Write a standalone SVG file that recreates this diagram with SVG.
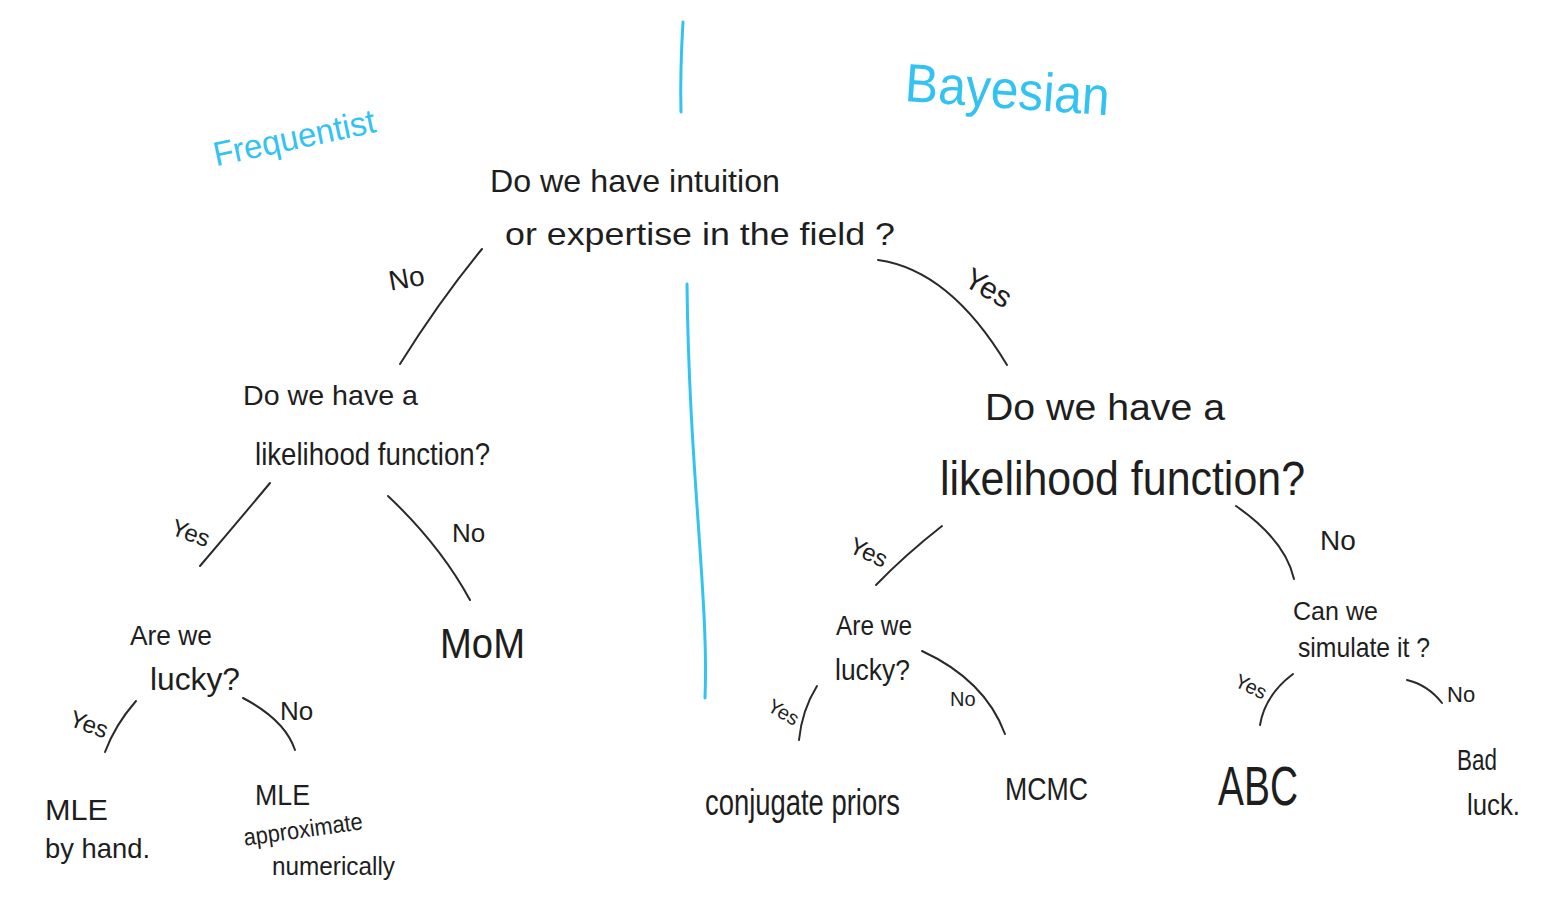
<svg xmlns="http://www.w3.org/2000/svg" width="1541" height="914" viewBox="0 0 1541 914">
<style>
.t{font-family:"Liberation Sans","DejaVu Sans",sans-serif;fill:#1e1e1e}
.b{font-family:"Liberation Sans","DejaVu Sans",sans-serif;fill:#33c3f2}
.c{fill:none;stroke:#2a2a2a;stroke-width:2;stroke-linecap:round}
.bl{fill:none;stroke:#33c3f2;stroke-width:3;stroke-linecap:round}
</style>
<rect width="1541" height="914" fill="#ffffff"/>
<g id="dividers">
<path class="bl" d="M683,22 Q680,70 681,112"/>
<path class="bl" d="M687,284 C689,470 709,600 705,698"/>
</g>
<g id="side-labels">
<text class="b" x="210" y="150" font-size="34" transform="rotate(-12 290 130)" textLength="165" lengthAdjust="spacingAndGlyphs">Frequentist</text>
<text class="b" x="905" y="108" font-size="54" transform="rotate(4 1005 90)" textLength="205" lengthAdjust="spacingAndGlyphs">Bayesian</text>
</g>
<g id="connectors">
<path class="c" d="M482,249 Q440,300 400,364"/>
<path class="c" d="M878,260 Q950,270 1007,365"/>
<path class="c" d="M270,483 Q235,525 200,566"/>
<path class="c" d="M388,496 Q440,545 470,600"/>
<path class="c" d="M136,701 Q115,725 105,752"/>
<path class="c" d="M243,698 Q285,720 295,750"/>
<path class="c" d="M942,526 Q905,555 876,585"/>
<path class="c" d="M1236,506 Q1285,540 1294,579"/>
<path class="c" d="M817,686 Q802,710 799,740"/>
<path class="c" d="M922,651 Q985,680 1005,734"/>
<path class="c" d="M1293,674 Q1265,695 1260,725"/>
<path class="c" d="M1407,680 Q1428,685 1442,703"/>
</g>
<g id="edge-labels">
<text class="t" x="388" y="288" font-size="28" transform="rotate(-10 405 275)">No</text>
<text class="t" x="966" y="300" font-size="30" transform="rotate(30 993 285)">Yes</text>
<text class="t" x="172" y="540" font-size="24" transform="rotate(20 188 530)">Yes</text>
<text class="t" x="452" y="542" font-size="26">No</text>
<text class="t" x="70" y="732" font-size="24" transform="rotate(20 88 722)">Yes</text>
<text class="t" x="280" y="720" font-size="26">No</text>
<text class="t" x="850" y="560" font-size="24" transform="rotate(25 868 550)">Yes</text>
<text class="t" x="1320" y="550" font-size="28">No</text>
<text class="t" x="768" y="718" font-size="20" transform="rotate(30 782 710)">Yes</text>
<text class="t" x="950" y="706" font-size="20">No</text>
<text class="t" x="1235" y="692" font-size="20" transform="rotate(25 1248 685)">Yes</text>
<text class="t" x="1447" y="702" font-size="22">No</text>
</g>
<g id="root">
<text class="t" x="490" y="192" font-size="32" textLength="290" lengthAdjust="spacingAndGlyphs">Do we have intuition</text>
<text class="t" x="505" y="245" font-size="32" textLength="390" lengthAdjust="spacingAndGlyphs">or expertise in the field ?</text>
</g>
<g id="freq-likelihood">
<text class="t" x="243" y="405" font-size="28" textLength="175" lengthAdjust="spacingAndGlyphs">Do we have a</text>
<text class="t" x="255" y="465" font-size="32" textLength="235" lengthAdjust="spacingAndGlyphs">likelihood function?</text>
</g>
<g id="bayes-likelihood">
<text class="t" x="985" y="420" font-size="36" textLength="240" lengthAdjust="spacingAndGlyphs">Do we have a</text>
<text class="t" x="940" y="495" font-size="48" textLength="365" lengthAdjust="spacingAndGlyphs">likelihood function?</text>
</g>
<g id="freq-lucky">
<text class="t" x="130" y="645" font-size="28" textLength="82" lengthAdjust="spacingAndGlyphs">Are we</text>
<text class="t" x="150" y="690" font-size="32" textLength="90" lengthAdjust="spacingAndGlyphs">lucky?</text>
</g>
<g id="mom">
<text class="t" x="440" y="658" font-size="42" textLength="85" lengthAdjust="spacingAndGlyphs">MoM</text>
</g>
<g id="mle-hand">
<text class="t" x="45" y="820" font-size="30" textLength="63" lengthAdjust="spacingAndGlyphs">MLE</text>
<text class="t" x="45" y="858" font-size="28" textLength="105" lengthAdjust="spacingAndGlyphs">by hand.</text>
</g>
<g id="mle-num">
<text class="t" x="255" y="805" font-size="30" textLength="55" lengthAdjust="spacingAndGlyphs">MLE</text>
<text class="t" x="243" y="838" font-size="24" textLength="120" lengthAdjust="spacingAndGlyphs" transform="rotate(-8 300 830)">approximate</text>
<text class="t" x="272" y="875" font-size="26" textLength="123" lengthAdjust="spacingAndGlyphs">numerically</text>
</g>
<g id="bayes-lucky">
<text class="t" x="836" y="635" font-size="28" textLength="76" lengthAdjust="spacingAndGlyphs">Are we</text>
<text class="t" x="835" y="680" font-size="30" textLength="75" lengthAdjust="spacingAndGlyphs">lucky?</text>
</g>
<g id="conjugate">
<text class="t" x="705" y="815" font-size="36" textLength="195" lengthAdjust="spacingAndGlyphs">conjugate priors</text>
</g>
<g id="mcmc">
<text class="t" x="1005" y="800" font-size="32" textLength="83" lengthAdjust="spacingAndGlyphs">MCMC</text>
</g>
<g id="simulate">
<text class="t" x="1293" y="620" font-size="26" textLength="85" lengthAdjust="spacingAndGlyphs">Can we</text>
<text class="t" x="1298" y="657" font-size="28" textLength="132" lengthAdjust="spacingAndGlyphs">simulate it ?</text>
</g>
<g id="abc">
<text class="t" x="1218" y="805" font-size="56" textLength="80" lengthAdjust="spacingAndGlyphs">ABC</text>
</g>
<g id="bad-luck">
<text class="t" x="1457" y="770" font-size="30" textLength="40" lengthAdjust="spacingAndGlyphs">Bad</text>
<text class="t" x="1467" y="815" font-size="30" textLength="53" lengthAdjust="spacingAndGlyphs">luck.</text>
</g>
</svg>
